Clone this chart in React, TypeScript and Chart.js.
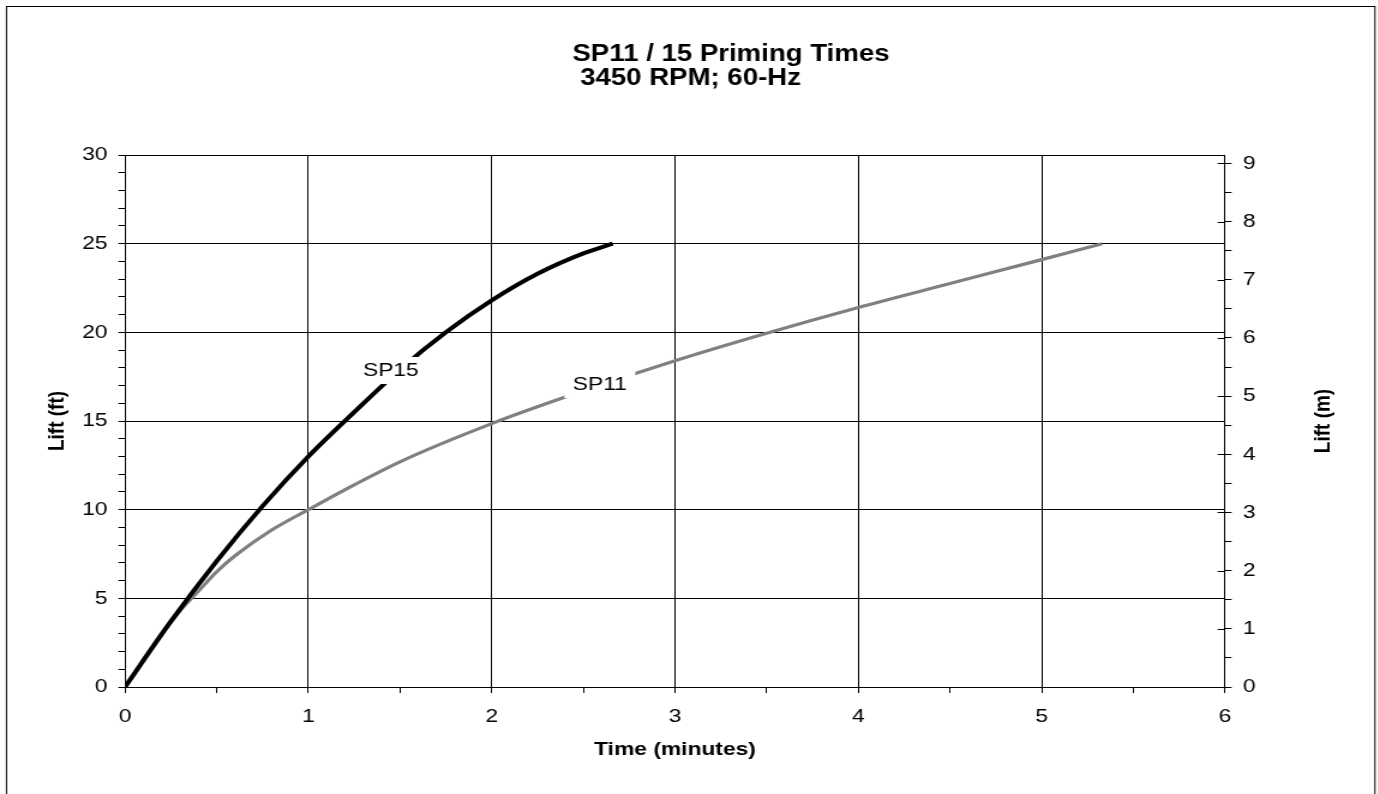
import React, { useEffect, useRef } from "react";
import { Chart, registerables } from "chart.js";

Chart.register(...registerables);

// ---- data ----
const sp15Time = [0, 0.25, 0.5, 0.75, 1.0, 1.25, 1.5, 1.75, 2.0, 2.25, 2.5, 2.66];
const sp15Lift = [0, 3.7, 7.1, 10.2, 13.0, 15.5, 17.9, 20.0, 21.8, 23.3, 24.45, 25.0];
const sp11Time = [0, 0.2, 0.3, 0.4, 0.5, 0.6, 0.8, 1.0, 1.25, 1.5, 2.0, 2.5, 3.0, 3.5, 4.0, 4.5, 5.0, 5.33];
const sp11Lift = [0, 3.0, 4.3, 5.4, 6.5, 7.4, 8.85, 10.0, 11.4, 12.7, 14.85, 16.7, 18.4, 19.95, 21.4, 22.75, 24.1, 25.0];
const seriesNames = ["SP15", "SP11"];
const seriesColors = ["#000000", "#808080"];
const labelTime = [1.45, 2.59];
const labelLift = [17.85, 17.06];
const titleLines = ["SP11 / 15 Priming Times", " 3450 RPM; 60-Hz"];
const xTitle = "Time (minutes)";
const yTitle = "Lift (ft)";
const y2Title = "Lift (m)";
const FT_TO_M = 0.3048;
const X_MIN = 0, X_MAX = 6, Y_MIN = 0, Y_MAX = 30;

// ---- layout (canvas is stretched horizontally like the reference) ----
const S = 1.2;
const W = 1378, H = 794;
const CW = Math.ceil(W / S);
const AREA_L = 125 / S, AREA_R = 1225 / S, AREA_T = 155, AREA_B = 687;
const FONT = "'Liberation Sans', Arial, sans-serif";

const toPts = (xs: number[], ys: number[]) => xs.map((x, i) => ({ x, y: ys[i] }));

const decorPlugin = {
  id: "decor",
  beforeDraw(chart: any) {
    const ctx = chart.ctx;
    ctx.save();
    ctx.fillStyle = "#fff";
    ctx.fillRect(0, 0, chart.width, chart.height);
    ctx.strokeStyle = "#000";
    ctx.lineWidth = 1;
    ctx.strokeRect(5.4, 6.5, 1145.8 - 5.4, 820);
    ctx.restore();
  },
  afterDatasetsDraw(chart: any) {
    const ctx = chart.ctx;
    const xs = chart.scales.x, ys = chart.scales.y;
    ctx.save();
    ctx.font = `19px ${FONT}`;
    ctx.textAlign = "center";
    ctx.textBaseline = "middle";
    seriesNames.forEach((name, i) => {
      const px = xs.getPixelForValue(labelTime[i]);
      const py = ys.getPixelForValue(labelLift[i]);
      const w = ctx.measureText(name).width + 14;
      const h = 27;
      ctx.fillStyle = "#fff";
      ctx.fillRect(px - w / 2, py - h / 2, w, h);
      ctx.fillStyle = "#000";
      ctx.fillText(name, px, py);
    });
    ctx.restore();
  },
  afterDraw(chart: any) {
    const ctx = chart.ctx;
    const area = chart.chartArea;
    const y2 = chart.scales.y2;
    ctx.save();
    // inner half of the major ticks on the right axis
    ctx.strokeStyle = "#000";
    ctx.lineWidth = 1;
    y2.ticks.forEach((t: any) => {
      if (Number.isInteger(t.value)) {
        const py = Math.round(y2.getPixelForValue(t.value)) + 0.5;
        ctx.beginPath();
        ctx.moveTo(area.right - 6.2, py);
        ctx.lineTo(area.right, py);
        ctx.stroke();
      }
    });
    // chart title
    ctx.fillStyle = "#000";
    ctx.font = `bold 23px ${FONT}`;
    ctx.textAlign = "left";
    ctx.textBaseline = "alphabetic";
    ctx.fillText(titleLines[0], 477, 60.7);
    ctx.fillText(titleLines[1], 477, 85);
    // axis titles
    ctx.font = `bold 19px ${FONT}`;
    ctx.textAlign = "center";
    ctx.textBaseline = "middle";
    ctx.fillText(xTitle, (area.left + area.right) / 2, 750);
    ctx.save();
    ctx.translate(47.9, (area.top + area.bottom) / 2);
    ctx.rotate(-Math.PI / 2);
    ctx.fillText(yTitle, 0, 0);
    ctx.restore();
    ctx.save();
    ctx.translate(1102.8, (area.top + area.bottom) / 2);
    ctx.rotate(-Math.PI / 2);
    ctx.fillText(y2Title, 0, 0);
    ctx.restore();
    ctx.restore();
  },
};

export default function App() {
  const ref = useRef<HTMLCanvasElement>(null);

  useEffect(() => {
    const prevOverflow = document.body.style.overflow;
    document.body.style.overflow = "hidden";
    const tickFont = { family: FONT, size: 19 };
    const chart = new Chart(ref.current as HTMLCanvasElement, {
      type: "line",
      data: {
        datasets: [
          {
            label: seriesNames[0],
            data: toPts(sp15Time, sp15Lift),
            borderColor: seriesColors[0],
            borderWidth: 4,
            pointRadius: 0,
            cubicInterpolationMode: "monotone",
            fill: false,
          },
          {
            label: seriesNames[1],
            data: toPts(sp11Time, sp11Lift),
            borderColor: seriesColors[1],
            borderWidth: 3.2,
            pointRadius: 0,
            cubicInterpolationMode: "monotone",
            fill: false,
          },
        ],
      },
      options: {
        animation: false,
        responsive: false,
        devicePixelRatio: 1,
        events: [],
        layout: { padding: { top: AREA_T, left: 0, right: 0, bottom: 0 } },
        plugins: { legend: { display: false }, title: { display: false }, tooltip: { enabled: false } },
        scales: {
          x: {
            type: "linear",
            position: "bottom",
            min: X_MIN,
            max: X_MAX,
            afterFit: (s: any) => { s.height = H - AREA_B; },
            ticks: {
              stepSize: 0.5,
              autoSkip: false,
              maxRotation: 0,
              padding: 12,
              color: "#000",
              font: tickFont,
              callback: (v: any) => (Number.isInteger(v) ? String(v) : ""),
            },
            grid: {
              color: (c: any) => (c.tick && Number.isInteger(c.tick.value) ? "#000" : "rgba(0,0,0,0)"),
              lineWidth: 1,
              tickColor: "#000",
              tickLength: 6,
            },
            border: { display: true, color: "#000", width: 1 },
            title: { display: false },
          },
          y: {
            type: "linear",
            position: "left",
            min: Y_MIN,
            max: Y_MAX,
            afterFit: (s: any) => { s.width = AREA_L; },
            ticks: {
              stepSize: 1,
              autoSkip: false,
              padding: 9,
              color: "#000",
              font: tickFont,
              callback: (v: any) => (v % 5 === 0 ? String(v) : ""),
            },
            grid: {
              color: (c: any) => (c.tick && c.tick.value % 5 === 0 ? "#000" : "rgba(0,0,0,0)"),
              lineWidth: 1,
              tickColor: "#000",
              tickLength: 5.5,
            },
            border: { display: true, color: "#000", width: 1 },
            title: { display: false },
          },
          y2: {
            type: "linear",
            position: "right",
            min: Y_MIN * FT_TO_M,
            max: Y_MAX * FT_TO_M,
            afterFit: (s: any) => { s.width = CW - AREA_R; },
            ticks: {
              stepSize: 0.5,
              includeBounds: false,
              autoSkip: false,
              padding: 9.3,
              color: "#000",
              font: tickFont,
              callback: (v: any) => (Number.isInteger(v) ? String(v) : ""),
            },
            grid: {
              drawOnChartArea: false,
              tickColor: "#000",
              tickLength: 5.5,
            },
            border: { display: true, color: "#000", width: 1 },
            title: { display: false },
          },
        },
      } as any,
      plugins: [decorPlugin],
    });
    return () => {
      chart.destroy();
      document.body.style.overflow = prevOverflow;
    };
  }, []);

  return (
    <div
      style={{
        position: "absolute",
        left: 0,
        top: 0,
        width: W,
        height: H,
        overflow: "hidden",
        background: "#fff",
      }}
    >
      <canvas
        ref={ref}
        width={CW}
        height={H}
        style={{
          display: "block",
          width: CW,
          height: H,
          transform: `scaleX(${S})`,
          transformOrigin: "0 0",
        }}
      />
    </div>
  );
}
